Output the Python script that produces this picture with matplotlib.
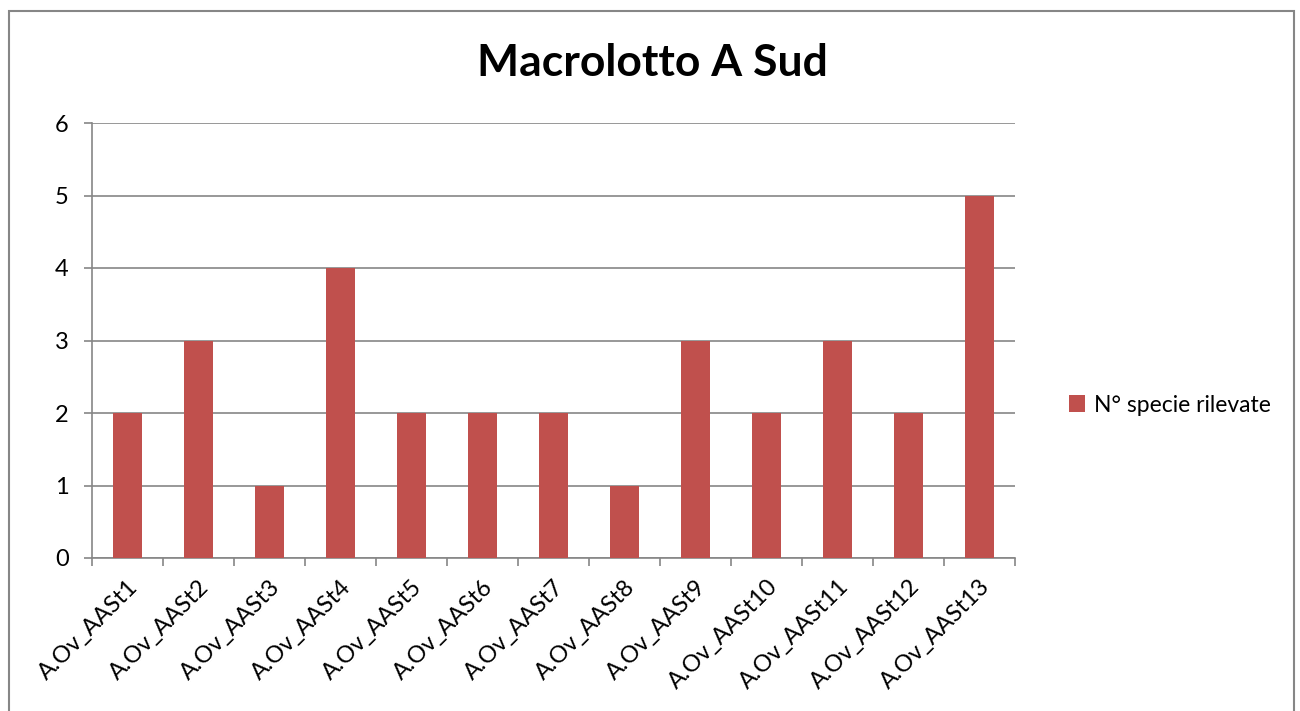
import matplotlib
matplotlib.use("Agg")
import matplotlib.pyplot as plt
from matplotlib.patches import Rectangle

categories = ["A.Ov_AASt1", "A.Ov_AASt2", "A.Ov_AASt3", "A.Ov_AASt4", "A.Ov_AASt5",
              "A.Ov_AASt6", "A.Ov_AASt7", "A.Ov_AASt8", "A.Ov_AASt9", "A.Ov_AASt10",
              "A.Ov_AASt11", "A.Ov_AASt12", "A.Ov_AASt13"]
values = [2, 3, 1, 4, 2, 2, 2, 1, 3, 2, 3, 2, 5]
series_name = "N° specie rilevate"
title = "Macrolotto A Sud"
yticks = [0, 1, 2, 3, 4, 5, 6]

plt.rcParams['font.family'] = ['Lato', 'DejaVu Sans']
grid_col = "#868686"
bar_col = "#C0504D"

fig = plt.figure(figsize=(13, 7.11), dpi=100)
ax = fig.add_axes([92/1300, 1 - 558/711, 923/1300, 435/711])

x = list(range(len(categories)))
ax.bar(x, values, width=0.41, color=bar_col, label=series_name, zorder=3)
ax.set_xlim(-0.5, len(categories) - 0.5)
ax.set_ylim(0, 6)
ax.set_yticks(yticks)
ax.set_yticklabels([str(v) for v in yticks], fontsize=17)
ax.yaxis.grid(True, color=grid_col, linewidth=1.2, zorder=0)
ax.set_axisbelow(True)

# x ticks at category boundaries
ax.set_xticks([i - 0.5 for i in range(len(categories) + 1)], minor=False)
ax.set_xticklabels([])
ax.set_xticks(x, minor=True)
ax.set_xticklabels(categories, minor=True, rotation=45, ha='right',
                   rotation_mode='anchor', fontsize=17)
ax.tick_params(axis='x', which='major', length=5.8, color=grid_col, width=1.2, direction='out')
ax.tick_params(axis='x', which='minor', length=0, pad=13)
ax.tick_params(axis='y', length=5.8, color=grid_col, width=1.2, pad=11)

for s in ['top', 'right']:
    ax.spines[s].set_visible(False)
for s in ['left', 'bottom']:
    ax.spines[s].set_color(grid_col)
    ax.spines[s].set_linewidth(1.2)

fig.text(652/1300, 1 - 63/711, title, ha='center', va='center', fontsize=32, fontweight='bold')

leg = fig.legend(loc='center left', bbox_to_anchor=(1048/1300, 1 - 405/711), frameon=False,
                 fontsize=16.5, handlelength=0.7, handleheight=0.7, handletextpad=0.4)

fig.patches.append(Rectangle((9/1300, -0.01), 1285/1300, 1 - 11/711 + 0.01,
                             transform=fig.transFigure, fill=False,
                             edgecolor=grid_col, linewidth=1.5))

fig.savefig("out.png", dpi=100)
